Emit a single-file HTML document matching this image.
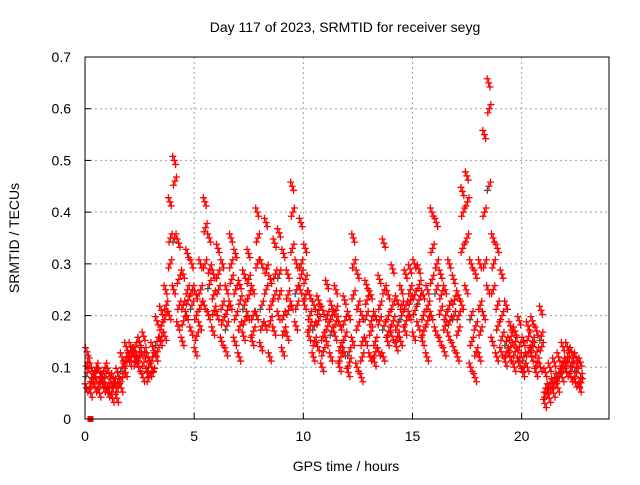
<!DOCTYPE html>
<html><head><meta charset="utf-8"><style>
body{margin:0;background:#fff;}
svg text{font-family:"Liberation Sans",sans-serif;font-size:14px;fill:#000;}
</style></head><body>
<svg id="chart" width="640" height="480">
<text x="345" y="32" text-anchor="middle">Day 117 of 2023, SRMTID for receiver seyg</text>
<text x="346" y="471" text-anchor="middle">GPS time / hours</text>
<text transform="translate(19,238) rotate(-90)" text-anchor="middle">SRMTID / TECUs</text>
<g id="grid"></g>
<g id="ticks"></g>
<g id="marks"></g>
<rect x="85" y="57" width="524" height="362" fill="none" stroke="#000" stroke-width="1"/>
</svg>
<script>
const hours=[0.0,0.2,0.4,0.6,0.8,1.0,1.2,1.4,1.6,1.8,2.0,2.2,2.4,2.6,2.8,3.0,3.2,3.4,3.6,3.8,4.0,4.2,4.4,4.6,4.8,5.0,5.2,5.4,5.6,5.8,6.0,6.2,6.4,6.6,6.8,7.0,7.2,7.4,7.6,7.8,8.0,8.2,8.4,8.6,8.8,9.0,9.2,9.4,9.6,9.8,10.0,10.2,10.4,10.6,10.8,11.0,11.2,11.4,11.6,11.8,12.0,12.2,12.4,12.6,12.8,13.0,13.2,13.4,13.6,13.8,14.0,14.2,14.4,14.6,14.8,15.0,15.2,15.4,15.6,15.8,16.0,16.2,16.4,16.6,16.8,17.0,17.2,17.4,17.6,17.8,18.0,18.2,18.4,18.6,18.8,19.0,19.2,19.4,19.6,19.8,20.0,20.2,20.4,20.6,20.8,21.0,21.2,21.4,21.6,21.8,22.0,22.2,22.4,22.6];
const vA=[.06,.05,.06,.05,.06,.05,.04,.04,.06,.09,.11,.12,.10,.08,.09,.10,.12,.15,.16,.20,.25,.18,.15,.20,.17,.13,.18,.22,.20,.17,.20,.15,.13,.22,.15,.12,.16,.20,.15,.20,.14,.18,.12,.17,.20,.13,.16,.22,.18,.25,.22,.16,.12,.14,.10,.15,.12,.16,.10,.13,.09,.15,.10,.08,.15,.12,.11,.13,.12,.15,.16,.14,.15,.17,.20,.16,.18,.15,.12,.20,.17,.15,.13,.16,.14,.12,.22,.25,.10,.08,.12,.20,.25,.15,.12,.13,.11,.12,.10,.11,.09,.10,.12,.09,.10,.03,.04,.05,.06,.08,.09,.08,.07,.06];
const vB=[.09,.08,.09,.07,.08,.07,.06,.07,.10,.12,.13,.14,.13,.11,.10,.12,.15,.18,.20,.30,.35,.27,.22,.25,.22,.20,.25,.30,.26,.24,.28,.22,.18,.30,.25,.18,.22,.27,.20,.30,.22,.25,.19,.24,.28,.20,.24,.33,.25,.30,.27,.20,.18,.19,.16,.20,.17,.21,.14,.19,.13,.24,.18,.12,.20,.17,.15,.19,.18,.20,.22,.18,.20,.22,.25,.24,.23,.20,.19,.27,.25,.21,.18,.22,.20,.17,.33,.35,.20,.18,.22,.40,.45,.25,.22,.20,.15,.14,.13,.14,.12,.13,.15,.13,.16,.06,.07,.08,.09,.11,.12,.11,.10,.08];
const vC=[.13,.10,.08,.09,.07,.09,.08,.09,.12,.14,.14,.13,.15,.16,.12,.14,.19,.21,.25,.42,.50,.34,.28,.32,.30,.24,.30,.42,.35,.28,.33,.30,.25,.35,.32,.26,.28,.32,.25,.40,.30,.38,.27,.34,.36,.32,.28,.45,.30,.38,.33,.24,.22,.23,.21,.26,.22,.25,.18,.23,.20,.35,.28,.20,.26,.24,.20,.27,.34,.24,.29,.23,.25,.28,.29,.30,.29,.24,.25,.40,.38,.28,.25,.30,.27,.24,.44,.47,.30,.28,.30,.55,.65,.35,.33,.28,.22,.18,.17,.19,.15,.18,.19,.17,.21,.09,.10,.11,.12,.14,.14,.13,.12,.11];
const vD=[.11,.07,.10,.08,.10,.06,.07,.06,.08,.11,.12,.11,.12,.13,.08,.09,.13,.16,.22,.35,.46,.22,.19,.23,.25,.16,.22,.37,.29,.21,.25,.19,.21,.27,.20,.23,.19,.24,.17,.35,.18,.29,.22,.28,.24,.17,.21,.40,.22,.28,.24,.18,.15,.21,.13,.18,.20,.19,.12,.16,.11,.30,.22,.15,.23,.19,.13,.22,.25,.17,.19,.16,.22,.19,.23,.21,.26,.17,.22,.33,.30,.24,.20,.19,.23,.20,.40,.42,.15,.13,.17,.30,.60,.30,.18,.16,.13,.16,.15,.12,.10,.16,.14,.11,.14,.05,.06,.07,.08,.10,.11,.10,.09,.07];
const xTicks=[0,5,10,15,20];
const yTicks=[0,0.1,0.2,0.3,0.4,0.5,0.6,0.7];
const yTickLabels=["0","0.1","0.2","0.3","0.4","0.5","0.6","0.7"];
const X0=85,X1=609,Y0=419,Y1=57,XMAX=24,YMAX=0.7;
const xs=h=>X0+(X1-X0)*h/XMAX, ys=v=>Y0-(Y0-Y1)*v/YMAX;
const NS="http://www.w3.org/2000/svg";
const grid=document.getElementById('grid'),ticks=document.getElementById('ticks'),marks=document.getElementById('marks');
function mk(tag,attrs,parent){const e=document.createElementNS(NS,tag);for(const k in attrs)e.setAttribute(k,attrs[k]);parent.appendChild(e);return e;}
xTicks.forEach(t=>{const x=xs(t);
 if(t>0){const g=mk('line',{x1:x,x2:x,y1:Y1,y2:Y0,stroke:'#a0a0a0','stroke-dasharray':'2,3'},grid);
 
 }
 const tk=mk('line',{x1:x,x2:x,y1:Y0,y2:Y0-6,stroke:'#000'},ticks);
 
 
 const tl=mk('text',{x:x,y:Y0+22,'text-anchor':'middle'},ticks);tl.textContent=String(t);
 
 
});
yTicks.forEach((t,i)=>{const y=ys(t);
 if(t>0&&t<YMAX){const g=mk('line',{x1:X0,x2:X1,y1:y,y2:y,stroke:'#a0a0a0','stroke-dasharray':'2,3'},grid);
 
 }
 const tk=mk('line',{x1:X0,x2:X0+6,y1:y,y2:y,stroke:'#000'},ticks);
 
 
 const tl=mk('text',{x:X0-14,y:y+5,'text-anchor':'end'},ticks);tl.textContent=yTickLabels[i];
 
 
});
function plus(h,v,color){const x=xs(h),y=ys(v);
 const p=mk('path',{d:`M${x-3.5},${y}H${x+3.5}M${x},${y-3.5}V${y+3.5}`,stroke:color,'stroke-width':1.3,fill:'none'},marks);
 
 }
const offsets=[[0,0.06,0.13],[0.03,0.1,0.17],[0.02,0.09,0.15],[0.05,0.12,0.19]];
[vA,vB,vC,vD].forEach((arr,si)=>{
 hours.forEach((h,i)=>{ offsets[si].forEach((off,k)=>{
   const col=(si===1&&k===0&&i%4===0)?'#505050':'#ff0000';
   plus(h+off,arr[i]+(k-1)*0.008*(si%2?1:-1),col);
 });});
});
const sq=mk('rect',{x:xs(0.25)-3,y:Y0-3,width:6,height:6,fill:'#ff0000'},marks);


</script>
</body></html>
